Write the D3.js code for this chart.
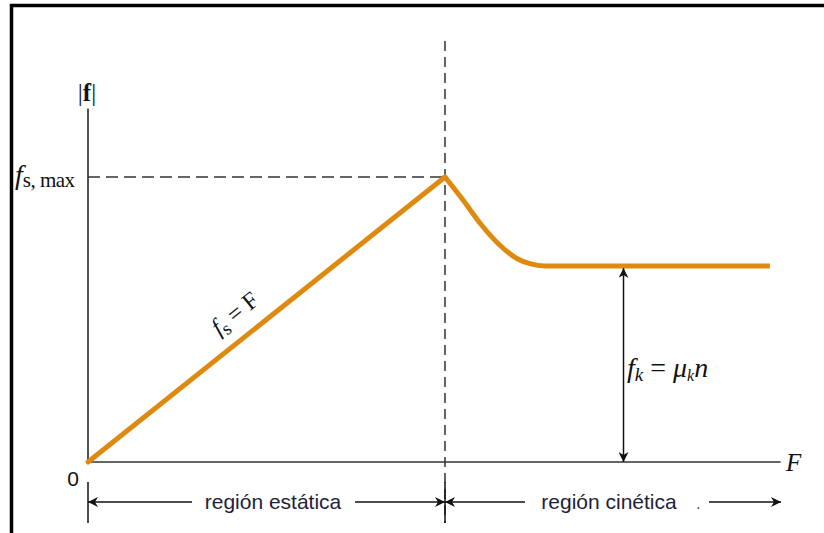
<!DOCTYPE html>
<html>
<head>
<meta charset="utf-8">
<script src="https://cdn.jsdelivr.net/npm/d3@7"></script>
<style>
  body { margin: 0; background: #fff; }
  svg { display: block; }
  .math { font-family: "Liberation Serif", "DejaVu Serif", serif; }
  .sans { font-family: "Liberation Sans", Arial, sans-serif; }
</style>
</head>
<body>
<svg id="chart" width="824" height="533"></svg>
<script>
// Static friction: f = F, from the origin up to fs,max
const staticF = [0, 10];
const staticf = [0, 10];
// Kinetic region: drop from fs,max down to the kinetic level, then flat
const kineticF = [10, 10.5, 11, 11.5, 12, 12.4, 12.8, 19.1];
const kineticf = [10, 9.2, 8.35, 7.65, 7.15, 6.95, 6.88, 6.88];
const fsMax = 10;
const fkLevel = 6.88;
const fkArrowAt = 15;
const axisMaxF = 19.4;
const axisMaxf = 12.4;
const regionLabels = ['región estática', 'región cinética'];

const svg = d3.select('#chart');
const orange = '#e0890f';

const x = d3.scaleLinear().domain([0, 10]).range([88, 445]);
const y = d3.scaleLinear().domain([0, 10]).range([462, 177]);

// Arrow marker
const defs = svg.append('defs');
defs.append('marker')
	.attr('id', 'arrowEnd')
	.attr('viewBox', '0 0 10 10')
	.attr('refX', 10)
	.attr('refY', 5)
	.attr('markerWidth', 15)
	.attr('markerHeight', 10)
	.attr('markerUnits', 'userSpaceOnUse')
	.attr('orient', 'auto-start-reverse')
	.append('path')
		.attr('d', 'M0,0 L10,5 L0,10 L3,5 Z')
		.attr('fill', '#111');

// Frame (left and top edges only)
svg.append('path')
	.attr('d', 'M11.5,533 L11.5,5.5 L824,5.5')
	.attr('fill', 'none')
	.attr('stroke', '#000')
	.attr('stroke-width', 3.5);

// Axes
svg.append('line')
	.attr('x1', x(0)).attr('y1', y(0))
	.attr('x2', x(0)).attr('y2', y(axisMaxf))
	.attr('stroke', '#333').attr('stroke-width', 1.7);
svg.append('line')
	.attr('x1', x(0)).attr('y1', y(0))
	.attr('x2', x(axisMaxF)).attr('y2', y(0))
	.attr('stroke', '#333').attr('stroke-width', 1.7);

// Dashed guides
svg.append('line')
	.attr('x1', x(0)).attr('y1', y(fsMax))
	.attr('x2', x(10)).attr('y2', y(fsMax))
	.attr('stroke', '#333').attr('stroke-width', 1.5)
	.attr('stroke-dasharray', '12,6');
svg.append('line')
	.attr('x1', x(10)).attr('y1', 41)
	.attr('x2', x(10)).attr('y2', 523)
	.attr('stroke', '#333').attr('stroke-width', 1.5)
	.attr('stroke-dasharray', '10,6');

// Orange friction curve
const lineLin = d3.line().x(d => x(d[0])).y(d => y(d[1]));
const lineCurve = d3.line().x(d => x(d[0])).y(d => y(d[1])).curve(d3.curveMonotoneX);
svg.append('path')
	.datum(d3.zip(staticF, staticf))
	.attr('d', lineLin)
	.attr('fill', 'none')
	.attr('stroke', orange)
	.attr('stroke-width', 5)
	.attr('stroke-linecap', 'round');
svg.append('path')
	.datum(d3.zip(kineticF, kineticf))
	.attr('d', lineCurve)
	.attr('fill', 'none')
	.attr('stroke', orange)
	.attr('stroke-width', 5)
	.attr('stroke-linejoin', 'round');

// fk double arrow
svg.append('line')
	.attr('x1', x(fkArrowAt)).attr('y1', y(fkLevel) + 2)
	.attr('x2', x(fkArrowAt)).attr('y2', y(0))
	.attr('stroke', '#111').attr('stroke-width', 1.5)
	.attr('marker-start', 'url(#arrowEnd)')
	.attr('marker-end', 'url(#arrowEnd)');

// Region brackets
const bracketY = 502;
[x(0), x(10)].forEach(px => {
	svg.append('line')
		.attr('x1', px).attr('y1', 482).attr('x2', px).attr('y2', 523)
		.attr('stroke', '#111').attr('stroke-width', 1.5);
});
function hArrow(x1, x2) {
	svg.append('line')
		.attr('x1', x1).attr('y1', bracketY).attr('x2', x2).attr('y2', bracketY)
		.attr('stroke', '#111').attr('stroke-width', 1.5)
		.attr('marker-end', 'url(#arrowEnd)');
}
hArrow(192, x(0));
hArrow(355, x(10));
hArrow(525, x(10));
hArrow(709, 781);

svg.append('text').attr('class', 'sans')
	.attr('x', 273).attr('y', bracketY + 7)
	.attr('text-anchor', 'middle')
	.attr('font-size', 21).attr('fill', '#1e1e3c')
	.text(regionLabels[0]);
svg.append('text').attr('class', 'sans')
	.attr('x', 609).attr('y', bracketY + 7)
	.attr('text-anchor', 'middle')
	.attr('font-size', 21).attr('fill', '#1e1e3c')
	.text(regionLabels[1]);
svg.append('text').attr('class', 'sans')
	.attr('x', 696).attr('y', bracketY + 7)
	.attr('font-size', 16).attr('fill', '#555')
	.text('.');

// Axis labels
svg.append('text').attr('class', 'math')
	.attr('x', 87).attr('y', 101)
	.attr('text-anchor', 'middle')
	.attr('font-size', 25).attr('fill', '#111')
	.html('|<tspan font-weight="bold">f</tspan>|');
svg.append('text').attr('class', 'math')
	.attr('x', 786).attr('y', 471)
	.attr('font-size', 25).attr('font-style', 'italic').attr('fill', '#111')
	.text('F');
svg.append('text').attr('class', 'sans')
	.attr('x', 73).attr('y', 486)
	.attr('text-anchor', 'middle')
	.attr('font-size', 21).attr('fill', '#111')
	.text('0');

// fs,max label
const fsm = svg.append('text').attr('class', 'math')
	.attr('x', 15).attr('y', 184).attr('fill', '#111');
fsm.append('tspan').attr('font-size', 28).attr('font-style', 'italic').text('f');
fsm.append('tspan').attr('font-size', 21).attr('dy', 3).attr('letter-spacing', -0.5).text('s, max');

// fs = F label along the line
const fsF = svg.append('text').attr('class', 'math')
	.attr('transform', 'translate(219,336) rotate(-38.7)')
	.attr('font-size', 24).attr('fill', '#111');
fsF.append('tspan').attr('font-style', 'italic').text('f');
fsF.append('tspan').attr('font-size', 19).attr('dy', 5).text('s');
fsF.append('tspan').attr('dy', -5).text(' = F');

// fk = mu_k n label
const fk = svg.append('text').attr('class', 'math')
	.attr('x', 627).attr('y', 377)
	.attr('font-size', 28).attr('font-style', 'italic').attr('fill', '#111');
fk.append('tspan').text('f');
fk.append('tspan').attr('font-size', 19).attr('dy', 4).text('k');
fk.append('tspan').attr('dy', -4).attr('font-style', 'normal').text(' = ');
fk.append('tspan').text('μ');
fk.append('tspan').attr('font-size', 16).attr('dy', 4).text('k');
fk.append('tspan').attr('dy', -4).text('n');
</script>
</body>
</html>
